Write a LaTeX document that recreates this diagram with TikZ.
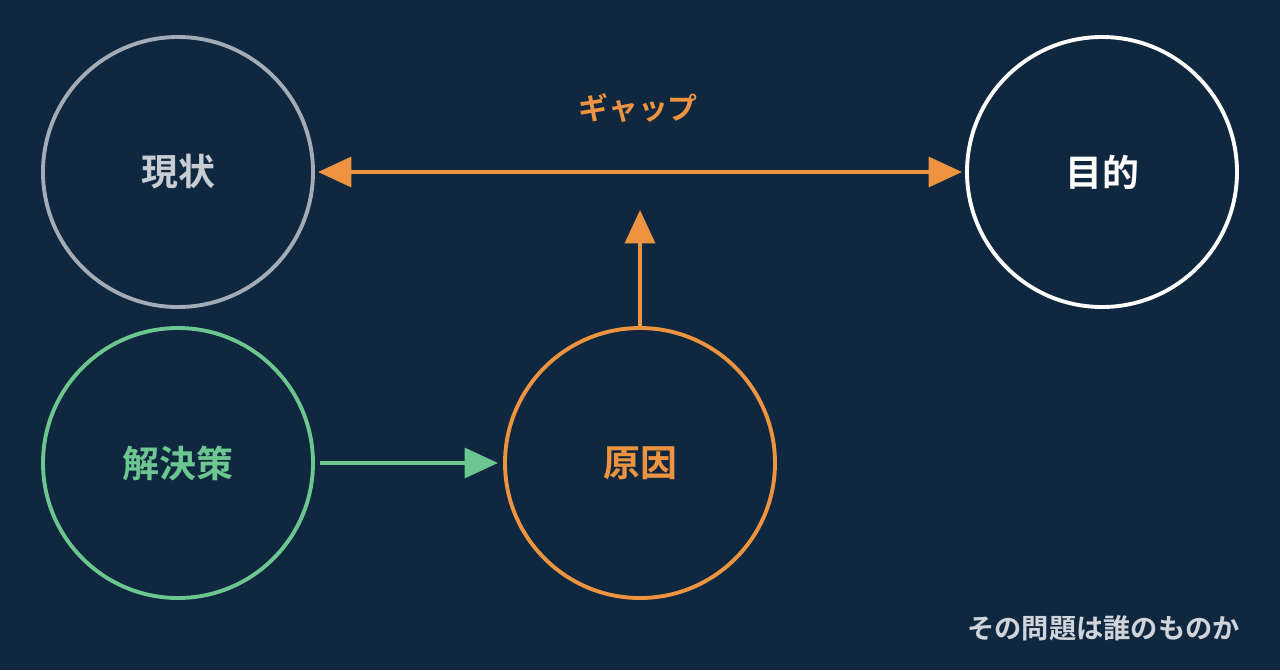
\documentclass[tikz,border=0pt]{standalone}
\usepackage{fontspec}
\newfontfamily\cjk{Noto Sans CJK JP}[BoldFont={* Bold}]
\usetikzlibrary{arrows.meta}
\definecolor{bg}{HTML}{10283F}
\definecolor{cgray}{HTML}{A3ABB6}
\definecolor{corange}{HTML}{EE9440}
\definecolor{cgreen}{HTML}{6CC690}
\begin{document}
\begin{tikzpicture}[x=0.02cm,y=-0.02cm,
  circ/.style={circle,line width=2.2pt,minimum size=270*0.02cm,inner sep=0pt,font=\cjk\bfseries\fontsize{21}{24}\selectfont},
  arr/.style={line width=2.2pt,-{Triangle[length=19pt,width=17pt]}},
  darr/.style={line width=2.2pt,{Triangle[length=19pt,width=17pt]}-{Triangle[length=19pt,width=17pt]}}]
\fill[bg] (0,0) rectangle (1280,670);
\node[circ,draw=cgray,text=cgray!60!white] (now) at (178,172) {現状};
\node[circ,draw=white,text=white] (goal) at (1102,172) {目的};
\node[circ,draw=cgreen,text=cgreen] (sol) at (178,463) {解決策};
\node[circ,draw=corange,text=corange] (cause) at (640,463) {原因};
\coordinate (gl) at (318,172);
\coordinate (gr) at (962,172);
\coordinate (gm) at (640,210);
\draw[darr,draw=corange,color=corange] (gl) -- (gr);
\node[text=corange,font=\cjk\bfseries\fontsize{17}{20}\selectfont] (gap) at (638,108) {ギャップ};
\draw[arr,draw=corange,color=corange] (cause.north) -- (gm);
\draw[arr,draw=cgreen,color=cgreen] (320,463) coordinate (s0) -- (498,463);
\node[anchor=east,text=cgray!50!white,font=\cjk\bfseries\fontsize{15.5}{18}\selectfont] (title) at (1246,628) {その問題は誰のものか};
\end{tikzpicture}
\end{document}
